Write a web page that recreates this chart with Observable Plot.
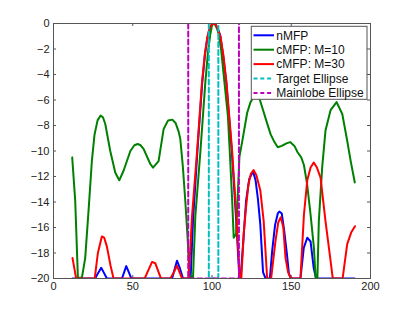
<!DOCTYPE html>
<html><head><meta charset="utf-8">
<script src="https://cdn.jsdelivr.net/npm/d3@7"></script>
<script src="https://cdn.jsdelivr.net/npm/@observablehq/plot@0.6"></script>
<style>body{margin:0;background:#fff}svg{display:block}</style>
</head><body><div id="chart"></div>
<script>
// nMFP (blue)
const nX = [12,26.3,28,30.1,32,33.7,43.2,45.9,47.5,49.1,74.8,77.9,79.5,81.7,86.5,88,90.8,93.8,95.5,97,98.5,100,101,102,103.5,105.2,107,109,112.5,115.2,117.3,118,119.5,121.5,123.5,125.9,127.5,129,130.5,132.2,133.8,136.5,138,139.8,141.5,142.5,144,145.5,147.2,148.5,149.8,155.8,157.9,160.1,162.2,164.2,165.7,190];
const nY = [-20,-20,-19.6,-19.16,-19.6,-20,-20,-19.03,-19.5,-20,-20,-18.6,-19.1,-20,-20,-15.5,-10,-4.7,-2.5,-1.2,-0.4,-0.05,0,-0.05,-0.35,-0.95,-2.5,-4.6,-10,-15.3,-20,-20,-17.5,-13.9,-12.2,-11.6,-12.3,-13.8,-15.8,-19.5,-20,-20,-17.8,-15.8,-14.9,-14.75,-14.9,-16.2,-18,-19.6,-20,-20,-17.6,-16.8,-17.1,-19.2,-20,-20];
// cMFP: M=10 (green)
const gX = [11.8,13.7,15.4,17.9,20,22.1,24.2,25.9,27.8,29.7,31.2,32.7,35.8,39,41.5,44.2,48.5,51,53.1,55,56.9,61,62.8,66.3,69.5,72.3,75,77,79,80,81.6,83.2,84.6,85.9,88,89.5,92.7,95.8,97.5,99,100,101,102,103,104.2,105.8,107.4,110,111.2,112.7,113.7,115.2,117.3,119,122.2,124.3,127,130,132,134.2,137,139.4,141.5,144,147,149.3,152,154,156.3,158,160,162.2,164.3,165.4,166.5,167.4,169.5,171.6,174.8,178.6,182.2,185.3,187.5,190.1];
const gY = [-10.5,-13.9,-19.95,-19.95,-18.4,-14.7,-10.8,-8.7,-7.6,-7.22,-7.35,-7.9,-10,-11.7,-12.3,-11.55,-10,-9.55,-9.45,-9.55,-9.85,-11,-11.3,-10.8,-8.27,-7.6,-7.54,-7.8,-8.5,-9.06,-11.2,-14,-16.8,-19.8,-19.95,-15.1,-10,-4.6,-2.2,-0.8,-0.15,0,-0.1,-0.35,-0.8,-2.1,-4.07,-7.2,-10,-13.8,-16.8,-16.5,-10.45,-9.3,-7,-6.17,-5.6,-5.9,-6.7,-7.6,-8.7,-9.3,-9.7,-9.6,-9.4,-9.3,-9.6,-10.1,-10.5,-11.1,-12.6,-15,-17.6,-20,-20,-15.5,-11.3,-8.4,-6.8,-6.17,-7.1,-9.2,-10.8,-12.47];
// cMFP: M=30 (red)
const rX = [12,14.3,26,28,30.5,32,33.7,36,37.9,57.5,60,62.2,64.2,66,67.8,73.7,76,77.9,79.5,81.1,85.3,87.4,90.6,93.7,95.5,97,98.5,100,101,102,103.5,105.3,107.2,109.1,112.7,115.4,117.5,118.5,120,121.5,123,124.5,126.3,128,130.5,132.6,134.8,137.3,140,141.8,143.4,145,146.4,148,149.7,155.8,158,160.1,162.2,164.2,166.2,168.5,171.6,174.8,176.2,182.4,185.3,187.8,190.2];
const rY = [-18.4,-20,-20,-18,-16.7,-16.8,-17.5,-19,-20,-20,-19.3,-18.7,-18.8,-19.4,-20,-20,-19.5,-19,-19.5,-20,-20,-15.1,-10,-4.6,-2.4,-1.1,-0.35,-0.03,0,-0.05,-0.35,-1,-2.5,-4.6,-10,-15.1,-20,-20,-16.5,-14.4,-12.6,-11.8,-11.5,-11.9,-13.1,-15.5,-20,-20,-17.1,-15.6,-15.2,-16,-18.4,-19.5,-20,-20,-15,-12.3,-11.3,-10.9,-11.3,-12.1,-15.5,-18.6,-20,-20,-17.3,-16.4,-15.9];
// Target ellipse (cyan) and Mainlobe ellipse (magenta)
const tX = [98,98,104,104];
const tY = [0,-20,-20,0];
const mX = [85,85,117,117];
const mY = [0,-20,-20,0];

const xTicks = [0,50,100,150,200];
const yTicks = [0,-2,-4,-6,-8,-10,-12,-14,-16,-18,-20];
const names = ["nMFP","cMFP: M=10","cMFP: M=30","Target Ellipse","Mainlobe Ellipse"];
const colors = ["#0000ff","#008000","#ff0000","#00bfbf","#bf00bf"];
const dashed = [false,false,false,true,true];

const rows = (xs, ys) => xs.map((x, i) => ({x, y: ys[i]}));
const series = [rows(nX,nY), rows(gX,gY), rows(rX,rY), rows(tX,tY), rows(mX,mY)];

const W = 409, H = 312, mL = 53, mR = 39, mT = 23, mB = 34;
const iw = W - mL - mR, ih = H - mT - mB;
const axisColor = "#555";
const fmt = d => d < 0 ? "\u2212" + Math.abs(d) : String(d);

const marks = [
  Plot.ruleX(xTicks, {x: d => d, insetTop: ih - 3, stroke: axisColor}),
  Plot.ruleX(xTicks, {x: d => d, insetBottom: ih - 3, stroke: axisColor}),
  Plot.ruleY(yTicks, {y: d => d, insetRight: iw - 3, stroke: axisColor}),
  Plot.ruleY(yTicks, {y: d => d, insetLeft: iw - 3, stroke: axisColor}),
];
series.forEach((data, i) => {
  marks.push(Plot.line(data, {x: "x", y: "y", stroke: colors[i], strokeWidth: 2,
    strokeDasharray: dashed[i] ? "5,3" : null, clip: true}));
});
marks.push(Plot.frame({stroke: axisColor}));
marks.push(Plot.axisX(xTicks, {tickSize: 0, tickPadding: 4, fontSize: 11, tickFormat: fmt}));
marks.push(Plot.axisY(yTicks, {tickSize: 0, tickPadding: 4, fontSize: 11, tickFormat: fmt, label: null}));

const chart = Plot.plot({
  width: W, height: H,
  marginLeft: mL, marginRight: mR, marginTop: mT, marginBottom: mB,
  x: {domain: [0, 200], label: null},
  y: {domain: [-20, 0], label: null},
  style: {fontFamily: "'Liberation Sans', Arial, Helvetica, sans-serif", color: "#222", background: "#fff"},
  marks
});

// legend inside plot (top-right)
const svg = d3.select(chart);
const lg = svg.append("g").attr("font-family", "'Liberation Sans', Arial, Helvetica, sans-serif")
  .attr("font-size", 12).attr("text-anchor", "start");
const lx = 251.3, ly = 26.3, lw = 115.7, lh = 73;
lg.append("rect").attr("x", lx).attr("y", ly).attr("width", lw).attr("height", lh)
  .attr("fill", "#fff").attr("stroke", axisColor);
names.forEach((n, i) => {
  const cy = 35.3 + i * 14.4;
  lg.append("line").attr("x1", 253.5).attr("x2", 274).attr("y1", cy).attr("y2", cy)
    .attr("stroke", colors[i]).attr("stroke-width", 2)
    .attr("stroke-dasharray", dashed[i] ? "4,2.8" : null);
  lg.append("text").attr("x", 276.3).attr("y", cy + 4.2).attr("fill", "#111").text(n);
});

document.getElementById("chart").appendChild(chart);
</script>
</body></html>
